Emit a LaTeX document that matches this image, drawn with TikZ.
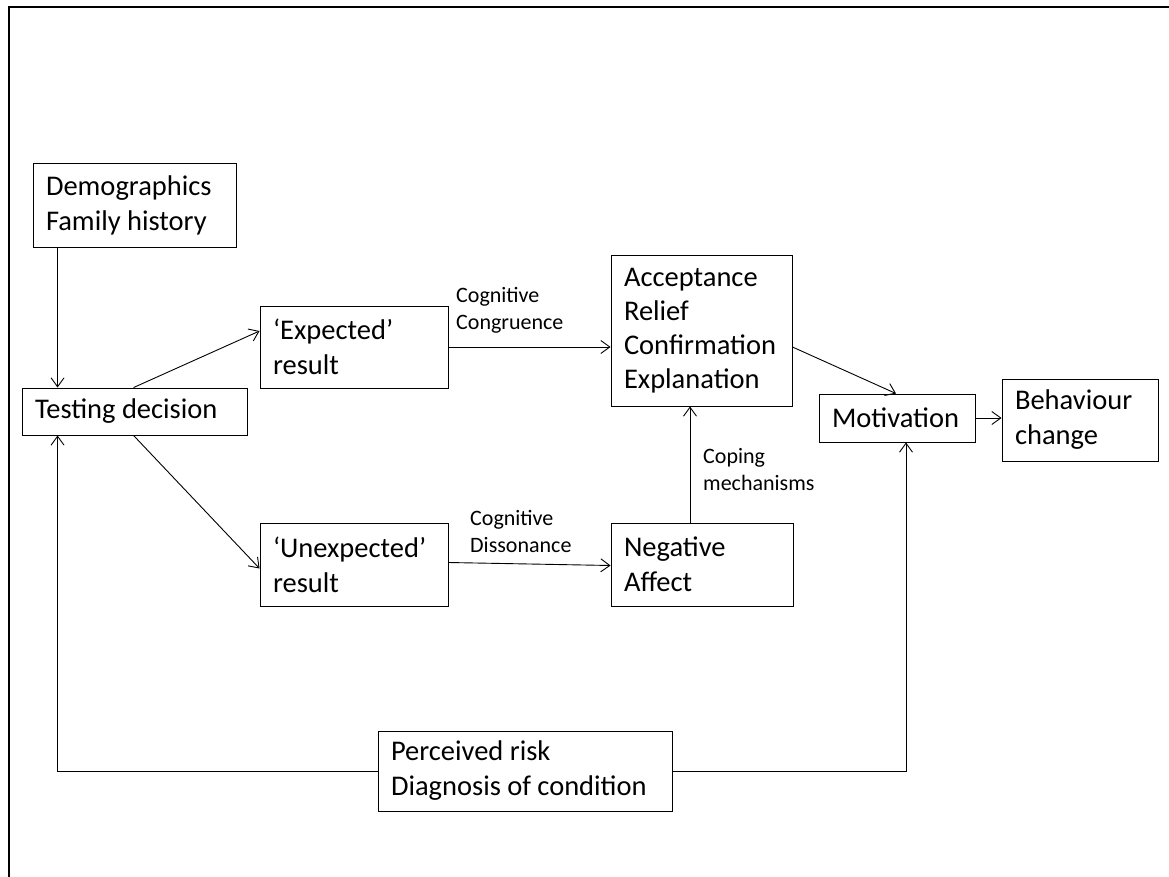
\documentclass[tikz,border=0pt]{standalone}
\usepackage{fontspec}
\setmainfont{Carlito}
\usetikzlibrary{arrows.meta}
\begin{document}
\begin{tikzpicture}[x=1pt,y=-1pt,
  box/.style={draw, line width=0.9pt, align=left, inner xsep=13pt, inner ysep=0pt,
    font=\fontsize{28.5}{35}\selectfont, execute at begin node={\spaceskip=6.4pt plus 0pt\relax}},
  lbl/.style={align=left, inner sep=0pt, anchor=north west,
    font=\fontsize{22}{27}\selectfont},
  arr/.style={-{Straight Barb[length=9pt,width=13pt]}, line width=0.9pt}]
\useasboundingbox (0,0) rectangle (1169,877);
\draw[line width=1.3pt] (9,877) -- (9,7) -- (1169,7);

\node[box, text width=177pt, minimum height=84pt] (demo) at (134.5,205) {Demographics\\Family history};
\node[box, text width=199pt, minimum height=47pt] (test) at (134.5,411.5) {Testing decision};
\node[box, text width=162pt, minimum height=82pt] (exp) at (354,347) {‘Expected’\\result};
\node[box, text width=162pt, minimum height=83pt] (unexp) at (354,564.5) {‘Unexpected’\\result};
\node[box, text width=155pt, minimum height=151pt, font=\fontsize{28.5}{34}\selectfont] (acc) at (701.5,330.5) {Acceptance\\Relief\\Confirmation\\Explanation};
\node[box, text width=156pt, minimum height=83pt] (neg) at (702,564.5) {Negative\\Affect};
\node[box, text width=130pt, minimum height=48pt] (mot) at (897,418) {Motivation};
\node[box, text width=130pt, minimum height=82pt] (beh) at (1080,420) {Behaviour\\change};
\node[box, text width=268pt, minimum height=80pt] (risk) at (525,771) {Perceived risk\\Diagnosis of condition};

\node[lbl] (lcong) at (456,287) {Cognitive\\Congruence};
\node[lbl] (ldiss) at (470,510) {Cognitive\\Dissonance};
\node[lbl] (lcope) at (703,448) {Coping\\mechanisms};

\draw[arr] ([xshift=25pt]demo.south west) -- ([xshift=25pt]demo.south west |- test.north);
\draw[arr] ([xshift=112pt]test.north west) -- ([yshift=16pt]exp.west);
\draw[arr] ([xshift=112pt]test.south west) -- ([yshift=-4pt]unexp.west);
\draw[arr] (exp.east) -- (exp.east -| acc.west);
\draw[arr] ([yshift=2pt]unexp.east) -- ([yshift=-1pt]neg.west);
\draw[arr] ([xshift=-12pt]neg.north) -- ([xshift=-12pt]neg.north |- acc.south);
\draw[arr] ([yshift=-16.5pt]acc.east) -- ([xshift=-1pt]mot.north);
\draw[arr] (mot.east) -- (mot.east -| beh.west);
\draw[arr] (risk.west) -| ([xshift=36pt]test.south west);
\draw[arr] (risk.east) -| ([xshift=9pt]mot.south);
\end{tikzpicture}
\end{document}
